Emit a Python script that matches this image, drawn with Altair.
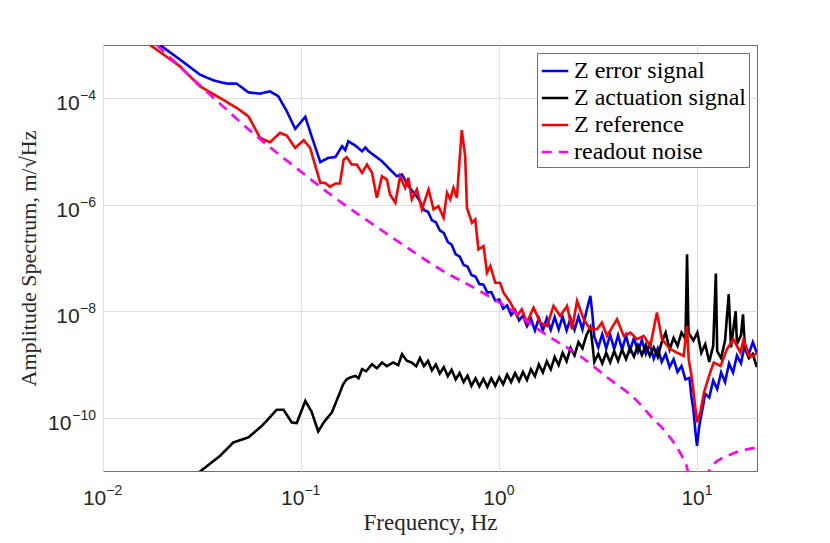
import altair as alt
import pandas as pd

# ---------------- data ----------------
err_f = [0.0194, 0.0245, 0.0309, 0.0361, 0.0422, 0.0473, 0.0542, 0.0621, 0.0697, 0.0767,
         0.0847, 0.0933, 0.105, 0.113, 0.125, 0.137, 0.149, 0.161, 0.167, 0.173,
         0.188, 0.203, 0.211, 0.219, 0.237, 0.256, 0.281, 0.304, 0.323, 0.348, 0.377,
         0.398, 0.417, 0.437, 0.457, 0.479, 0.501, 0.525, 0.550, 0.575, 0.603,
         0.631, 0.661, 0.692, 0.724, 0.759, 0.794, 0.832, 0.871, 0.912, 0.955,
         1.0, 1.047, 1.096, 1.148, 1.202, 1.259, 1.318, 1.380, 1.445, 1.514,
         1.585, 1.660, 1.738, 1.820, 1.905, 1.995, 2.089, 2.188, 2.291, 2.399,
         2.512, 2.630, 2.754, 2.884, 2.951, 3.020, 3.162, 3.311, 3.467, 3.631,
         3.802, 3.981, 4.169, 4.365, 4.571, 4.786, 5.012, 5.248, 5.495, 5.754,
         6.026, 6.310, 6.607, 6.918, 7.244, 7.586, 7.943, 8.318, 8.710, 9.120,
         9.333, 9.550, 9.772, 9.954, 10.23, 10.47, 10.96, 11.48, 12.02, 12.59,
         13.18, 13.80, 14.45, 15.14, 15.85, 16.60, 17.38, 18.20, 19.05, 19.95]
err_a = [1.0e-3, 5.30e-4, 2.77e-4, 2.17e-4, 1.88e-4, 1.88e-4, 1.29e-4, 1.22e-4, 1.35e-4, 1.09e-4,
         5.69e-5, 2.66e-5, 4.47e-5, 1.93e-5, 6.30e-6, 7.60e-6, 7.87e-6, 1.26e-5, 1.06e-5, 1.56e-5,
         1.29e-5, 1.01e-5, 1.19e-5, 1.01e-5, 8.15e-6, 6.56e-6, 4.59e-6, 3.44e-6, 3.70e-6, 2.23e-6, 1.56e-6,
         1.17e-6, 7.94e-7, 7.41e-7, 5.13e-7, 4.68e-7, 3.31e-7, 2.95e-7, 2.00e-7, 1.78e-7, 1.17e-7,
         1.07e-7, 7.41e-8, 6.92e-8, 4.79e-8, 4.47e-8, 3.24e-8, 3.16e-8, 2.24e-8, 2.29e-8, 1.58e-8,
         1.66e-8, 1.12e-8, 1.29e-8, 8.51e-9, 1.05e-8, 6.76e-9, 8.32e-9, 5.25e-9, 7.24e-9, 4.37e-9,
         7.41e-9, 4.37e-9, 7.41e-9, 4.47e-9, 7.76e-9, 4.57e-9, 7.94e-9, 4.37e-9, 7.41e-9, 4.47e-9,
         7.94e-9, 4.57e-9, 1.00e-8, 1.95e-8, 8.91e-9, 3.31e-9, 2.09e-9, 3.72e-9, 2.00e-9, 3.63e-9,
         1.95e-9, 3.55e-9, 1.91e-9, 3.47e-9, 1.82e-9, 3.16e-9, 1.74e-9, 2.88e-9, 1.58e-9, 2.40e-9,
         1.29e-9, 2.00e-9, 1.12e-9, 1.58e-9, 8.91e-10, 1.26e-9, 7.24e-10, 9.33e-10, 5.25e-10, 5.62e-10,
         2.51e-10, 1.41e-10, 5.62e-11, 2.95e-11, 7.08e-11, 1.12e-10, 2.82e-10, 2.40e-10, 5.01e-10, 3.47e-10,
         7.08e-10, 4.68e-10, 1.05e-9, 7.08e-10, 1.48e-9, 1.05e-9, 2.40e-9, 1.58e-9, 2.63e-9, 1.66e-9]

act_f = [0.0292, 0.0390, 0.0455, 0.0542, 0.0634, 0.0697, 0.0753, 0.0815, 0.0897, 0.0950,
         0.105, 0.113, 0.122, 0.130, 0.143, 0.157, 0.163, 0.170, 0.177, 0.188,
         0.195, 0.203, 0.213, 0.228, 0.241, 0.256, 0.271, 0.292, 0.309, 0.323,
         0.342, 0.360, 0.381,
         0.398, 0.417, 0.437, 0.457, 0.479, 0.501, 0.525, 0.550, 0.575, 0.603,
         0.631, 0.661, 0.692, 0.724, 0.759, 0.794, 0.832, 0.871, 0.912, 0.955,
         1.0, 1.047, 1.096, 1.148, 1.202, 1.259, 1.318, 1.380, 1.445, 1.514,
         1.585, 1.660, 1.738, 1.820, 1.905, 1.995, 2.089, 2.188, 2.291, 2.399,
         2.512, 2.630, 2.754, 2.884, 2.951, 3.020, 3.162, 3.311, 3.467, 3.631,
         3.802, 3.981, 4.169, 4.365, 4.571, 4.786, 5.012, 5.248, 5.495, 5.754,
         6.026, 6.310, 6.607, 6.918, 7.244, 7.586, 7.943, 8.318, 8.710, 8.87,
         9.02, 9.550, 10.0, 10.47, 10.96, 11.48, 12.02, 12.4, 12.59, 13.18,
         13.80, 14.4, 14.79, 15.6, 15.85, 16.60, 17.0, 17.38, 18.20, 19.05, 19.95]
act_a = [8.3e-12, 1.93e-11, 3.44e-11, 4.28e-11, 7.05e-11, 1.03e-10, 1.41e-10, 1.41e-10, 8.17e-11, 7.93e-11,
         2.07e-10, 1.29e-10, 5.53e-11, 8.17e-11, 1.26e-10, 2.98e-10, 4.27e-10, 5.30e-10, 5.70e-10, 6.11e-10,
         5.53e-10, 8.17e-10, 7.48e-10, 1.01e-9, 8.51e-10, 1.09e-9, 9.29e-10, 1.09e-9, 9.70e-10, 1.56e-9,
         1.17e-9, 1.10e-9, 9.29e-10,
         1.32e-9, 9.33e-10, 1.17e-9, 7.76e-10, 1.00e-9, 6.76e-10, 8.91e-10, 6.03e-10, 7.94e-10, 5.25e-10,
         6.92e-10, 4.68e-10, 6.17e-10, 3.98e-10, 5.50e-10, 3.89e-10, 5.37e-10, 3.80e-10, 5.50e-10, 3.98e-10,
         5.75e-10, 4.27e-10, 6.46e-10, 4.68e-10, 6.92e-10, 4.90e-10, 7.24e-10, 5.13e-10, 8.13e-10, 6.03e-10,
         1.00e-9, 7.08e-10, 1.15e-9, 8.13e-10, 1.38e-9, 9.77e-10, 1.66e-9, 1.15e-9, 2.04e-9, 1.48e-9,
         2.63e-9, 2.00e-9, 3.55e-9, 5.01e-9, 2.51e-9, 1.12e-9, 1.58e-9, 1.05e-9, 1.66e-9, 1.10e-9,
         1.78e-9, 1.17e-9, 1.91e-9, 1.26e-9, 2.04e-9, 1.41e-9, 2.29e-9, 1.51e-9, 2.34e-9, 1.45e-9,
         2.09e-9, 1.38e-9, 2.63e-9, 3.98e-9, 1.91e-9, 3.16e-9, 2.24e-9, 3.98e-9, 3.02e-9, 1.17e-7,
         3.98e-9, 2.82e-9, 3.98e-9, 1.66e-9, 2.40e-9, 1.12e-9, 2.24e-9, 5.13e-8, 1.78e-9, 1.32e-9,
         2.82e-9, 2.09e-8, 2.09e-9, 1.00e-8, 2.40e-9, 3.55e-9, 8.71e-9, 2.00e-9, 1.32e-9, 1.58e-9, 8.91e-10]

ref_f = [0.0173, 0.0245, 0.0309, 0.0390, 0.0473, 0.0542, 0.0621, 0.0697, 0.0783, 0.0847,
         0.0933, 0.103, 0.111, 0.125, 0.132, 0.140, 0.149, 0.157, 0.164, 0.170,
         0.180, 0.191, 0.203, 0.215, 0.228, 0.241, 0.256, 0.271, 0.281, 0.299,
         0.316, 0.335, 0.348, 0.362, 0.384, 0.407, 0.440, 0.466, 0.493, 0.524,
         0.545, 0.566, 0.587, 0.611, 0.647, 0.673, 0.687, 0.728, 0.757, 0.785,
         0.834, 0.867, 0.902, 0.955, 1.01, 1.05, 1.14, 1.23, 1.30, 1.38,
         1.49, 1.61,
         1.74, 1.88, 2.03, 2.20, 2.33, 2.47, 2.67, 2.88, 3.11, 3.30,
         3.50, 3.93, 4.25, 4.59, 4.96, 5.36, 5.79, 6.25, 6.63, 7.31,
         7.89, 8.53, 8.87, 9.04, 9.40, 9.96, 10.35, 10.8, 11.6, 12.1,
         13.1, 14.1, 15.2, 16.5, 17.1, 18.2, 19.2, 20.0]
ref_a = [1.0e-3, 3.97e-4, 1.67e-4, 1.01e-4, 6.59e-5, 4.58e-5, 1.80e-5, 1.49e-5, 2.24e-5, 1.99e-5,
         1.17e-5, 1.63e-5, 1.17e-5, 2.58e-6, 2.58e-6, 2.17e-6, 2.51e-6, 2.51e-6, 7.07e-6, 7.80e-6,
         5.69e-6, 5.69e-6, 3.98e-6, 5.69e-6, 3.98e-6, 1.35e-6, 3.44e-6, 2.98e-6, 1.56e-6, 1.09e-6,
         3.44e-6, 2.08e-6, 3.21e-6, 1.26e-6, 1.94e-6, 8.17e-7, 1.94e-6, 8.17e-7, 9.42e-7, 5.70e-7,
         1.68e-6, 1.26e-6, 2.08e-6, 1.35e-6, 2.52e-5, 8.15e-6, 8.79e-7, 4.59e-7, 5.30e-7, 1.45e-7,
         1.67e-7, 5.31e-8, 7.07e-8, 3.44e-8, 3.44e-8, 2.24e-8, 1.45e-8, 8.15e-9, 1.09e-8, 6.12e-9,
         1.17e-8, 6.12e-9,
         5.29e-9, 1.26e-8, 8.15e-9, 1.26e-8, 4.59e-9, 1.56e-8, 7.07e-9, 4.59e-9, 4.59e-9, 6.12e-9,
         3.44e-9, 7.07e-9, 3.44e-9, 3.98e-9, 2.98e-9, 3.44e-9, 2.23e-9, 9.44e-9, 2.98e-9, 1.94e-9,
         1.67e-9, 1.45e-9, 5.29e-9, 1.26e-9, 5.30e-10, 8.17e-11, 1.26e-10, 2.98e-10, 7.08e-10, 1.09e-9,
         9.42e-10, 1.94e-9, 2.98e-9, 1.67e-9, 2.98e-9, 1.45e-9, 1.45e-9, 1.67e-9]

noise_f = [0.0187, 0.0347, 0.0597, 0.1, 0.145, 0.223, 0.342, 0.504, 0.771, 1.137,
           1.74, 2.57, 3.50, 4.92, 6.0, 6.73, 7.57, 8.40, 8.9, 9.4,
           10.6, 11.0, 11.6, 13.06, 14.2, 15.9, 20.1]
noise_a = [1.0e-3, 1.17e-4, 1.93e-5, 4.16e-6, 1.43e-6, 4.66e-7, 1.58e-7, 6.12e-8, 2.58e-8, 1.09e-8,
           3.55e-9, 1.43e-9, 5.78e-10, 2.14e-10, 9.4e-11, 6.12e-11, 3.49e-11, 1.83e-11, 1.09e-11, 2e-12,
           2e-12, 7e-12, 1.09e-11, 1.67e-11, 1.93e-11, 2.29e-11, 2.77e-11]

series_names = ["Z error signal", "Z actuation signal", "Z reference", "readout noise"]
series_colors = ["#0000ff", "#000000", "#ff0000", "#ff00ff"]
series_dash = [[1, 0], [1, 0], [1, 0], [10, 7]]

# tick labels: base "10" with a superscript exponent
tick_base = "10"
xtick_vals = [0.01, 0.1, 1, 10]
xtick_exps = ["\u22122", "\u22121", "0", "1"]
ytick_vals = [1e-10, 1e-8, 1e-6, 1e-4]
ytick_exps = ["\u221210", "\u22128", "\u22126", "\u22124"]

x_domain = [0.01, 20]
y_domain = [1e-11, 1e-3]

# ---------------- build table ----------------
frames = []
for name, fs, amps in zip(series_names, [err_f, act_f, ref_f, noise_f], [err_a, act_a, ref_a, noise_a]):
    assert len(fs) == len(amps), name
    frames.append(pd.DataFrame({"series": name, "f": fs, "a": amps, "i": list(range(len(fs)))}))
df = pd.concat(frames, ignore_index=True)

TXT = "#262626"
SERIF = "Liberation Serif"
LEG_FONT = "Times New Roman, Liberation Serif, serif"
SANS = "Liberation Sans"

xaxis = alt.Axis(values=xtick_vals, labels=False, grid=True, gridColor="#dfdfdf", gridWidth=1,
                 tickSize=0, domain=False,
                 title="Frequency, Hz", titleFont=SERIF, titleFontSize=23,
                 titleFontWeight="normal", titleColor=TXT, titlePadding=40)
yaxis = alt.Axis(values=ytick_vals, labels=False, grid=True, gridColor="#dfdfdf", gridWidth=1,
                 tickSize=0, domain=False,
                 title="Amplitude Spectrum, m/\u221aHz", titleFont=SERIF, titleFontSize=22,
                 titleFontWeight="normal", titleColor=TXT, titlePadding=62)
xscale = alt.Scale(type="log", domain=x_domain, nice=False)
yscale = alt.Scale(type="log", domain=y_domain, nice=False)

legend = alt.Legend(title=None, orient="top-right", offset=8, fillColor="white",
                    strokeColor="#6f6f6f", padding=3, labelFont=LEG_FONT,
                    labelFontSize=24, labelFontWeight="normal", labelFontStyle="normal",
                    labelColor="black", symbolType="stroke", symbolSize=700,
                    symbolStrokeWidth=2.6, rowPadding=0, labelLimit=400, labelOffset=4,
                    cornerRadius=0)

base = alt.Chart(df)
layers = []
for name in series_names:
    mark_kw = dict(clip=True, strokeWidth=2.6)
    if name == "readout noise":
        mark_kw["interpolate"] = "monotone"
    layers.append(
        base.transform_filter(alt.datum.series == name)
        .mark_line(**mark_kw)
        .encode(
            x=alt.X("f:Q", scale=xscale, axis=xaxis),
            y=alt.Y("a:Q", scale=yscale, axis=yaxis),
            color=alt.Color("series:N", scale=alt.Scale(domain=series_names, range=series_colors),
                            legend=legend),
            strokeDash=alt.StrokeDash("series:N", scale=alt.Scale(domain=series_names, range=series_dash),
                                      legend=legend),
            order=alt.Order("i:Q"),
        )
    )

# ---------------- tick labels (10 with superscript) ----------------
BASE_FS = 21
EXP_FS = 14
BASE_W = 23.0
EXP_CHAR_W = 8.2


def text_layer(xv, yv, txt, size, align, dx, dy):
    d = pd.DataFrame({"xv": [xv], "yv": [yv], "t": [txt]})
    return alt.Chart(d).mark_text(align=align, baseline="alphabetic", dx=dx, dy=dy,
                                  font=SANS, fontSize=size, color=TXT).encode(
        x=alt.X("xv:Q", scale=xscale, axis=xaxis),
        y=alt.Y("yv:Q", scale=yscale, axis=yaxis),
        text="t:N",
    )


for v, e in zip(xtick_vals, xtick_exps):
    split = (BASE_W - EXP_CHAR_W * len(e)) / 2
    layers.append(text_layer(v, y_domain[0], tick_base, BASE_FS, "right", split, 34))
    layers.append(text_layer(v, y_domain[0], e, EXP_FS, "left", split, 24))

for v, e in zip(ytick_vals, ytick_exps):
    ew = EXP_CHAR_W * len(e)
    layers.append(text_layer(x_domain[0], v, tick_base, BASE_FS, "right", -7 - ew, 12))
    layers.append(text_layer(x_domain[0], v, e, EXP_FS, "right", -7, 2))

chart = (
    alt.layer(*layers)
    .properties(width=654, height=426,
                autosize=alt.AutoSizeParams(type="none"),
                padding={"left": 95, "top": 37, "right": 65, "bottom": 64})
    .configure(background="white", font=SERIF)
    .configure_view(stroke="#707070", strokeWidth=1)
    .configure_legend(labelFont=LEG_FONT, labelFontSize=24, labelColor="black")
)

chart.save("out.html", embed_options={"renderer": "svg", "actions": False})
